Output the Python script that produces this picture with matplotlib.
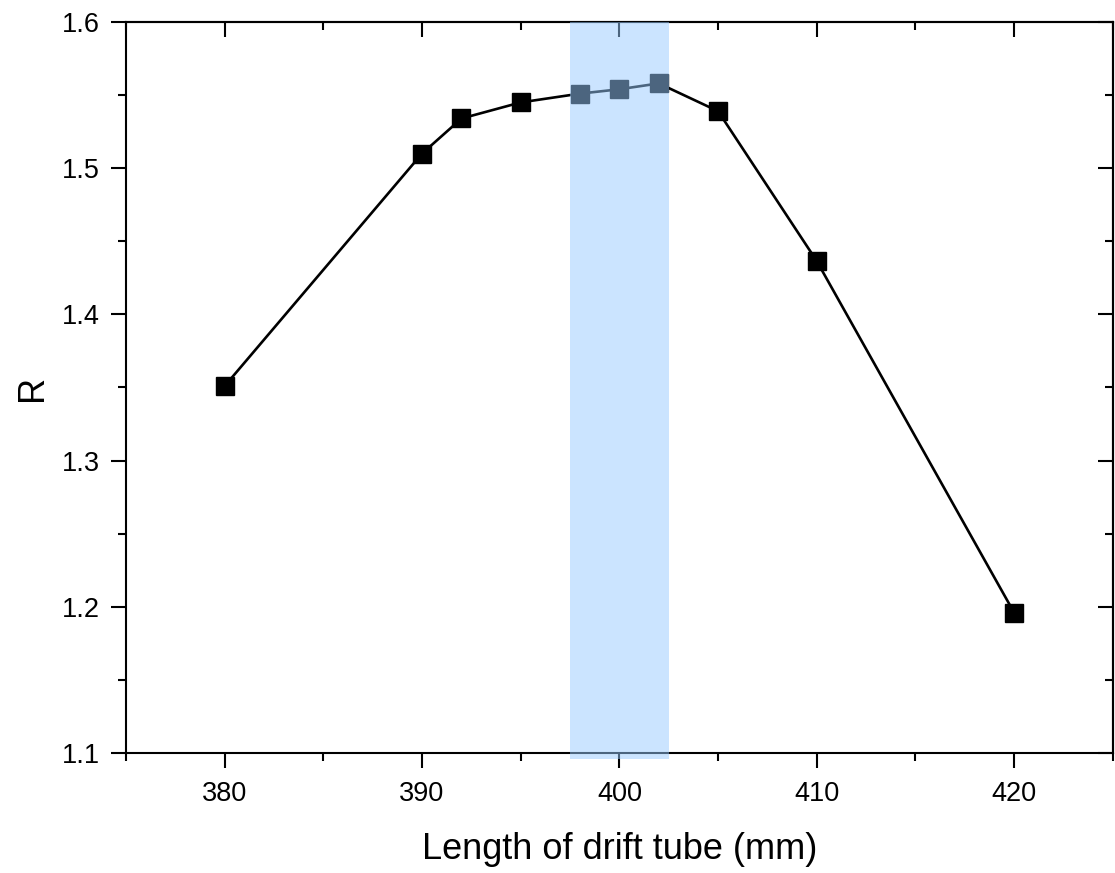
import matplotlib.pyplot as plt
from matplotlib.ticker import MultipleLocator

# data
length_mm = [380, 390, 392, 395, 398, 400, 402, 405, 410, 420]
r_value = [1.351, 1.510, 1.534, 1.545, 1.551, 1.554, 1.558, 1.539, 1.4365, 1.196]
band_lo, band_hi = 397.5, 402.5

plt.rcParams['font.family'] = ['Liberation Sans', 'DejaVu Sans']

fig = plt.figure(figsize=(11.15, 8.73), dpi=100)
ax = fig.add_axes([0.113, 0.1375, 0.885, 0.8373])

ax.plot(length_mm, r_value, color='black', lw=1.9, marker='s', markersize=12.5,
        markerfacecolor='black', markeredgecolor='black', zorder=2)

# highlighted band drawn on top, semi-transparent
ax.axvspan(band_lo, band_hi, ymin=-0.008, ymax=1, color=(152/255, 203/255, 1.0),
           alpha=0.5, lw=0, zorder=3, clip_on=False)

ax.set_xlim(375, 425)
ax.set_ylim(1.1, 1.6)
ax.xaxis.set_major_locator(MultipleLocator(10))
ax.xaxis.set_minor_locator(MultipleLocator(5))
ax.yaxis.set_major_locator(MultipleLocator(0.1))
ax.yaxis.set_minor_locator(MultipleLocator(0.05))

for s in ax.spines.values():
    s.set_linewidth(1.5)

ax.tick_params(which='both', width=1.5, labelsize=19.5)
ax.tick_params(which='major', length=11)
ax.tick_params(which='minor', length=6)
ax.tick_params(axis='both', which='both', direction='out', top=False, right=False)
ax.tick_params(axis='x', pad=9)
ax.tick_params(axis='y', pad=8)

# inward ticks on top and right
ax_top = ax.secondary_xaxis('top')
ax_top.xaxis.set_major_locator(MultipleLocator(10))
ax_top.xaxis.set_minor_locator(MultipleLocator(5))
ax_top.tick_params(which='both', direction='in', width=1.5, labeltop=False)
ax_top.tick_params(which='major', length=11)
ax_top.tick_params(which='minor', length=6)
ax_top.spines['top'].set_linewidth(1.5)

ax_right = ax.secondary_yaxis('right')
ax_right.yaxis.set_major_locator(MultipleLocator(0.1))
ax_right.yaxis.set_minor_locator(MultipleLocator(0.05))
ax_right.tick_params(which='both', direction='in', width=1.5, labelright=False)
ax_right.tick_params(which='major', length=11)
ax_right.tick_params(which='minor', length=6)
ax_right.spines['right'].set_linewidth(1.5)

ax.yaxis.set_major_formatter(plt.FuncFormatter(lambda v, p: f'{v:.1f}'))

ax.set_xlabel('Length of drift tube (mm)', fontsize=26, labelpad=18)
ax.set_ylabel('R', fontsize=26, labelpad=8)

fig.savefig('out.png', dpi=100)
